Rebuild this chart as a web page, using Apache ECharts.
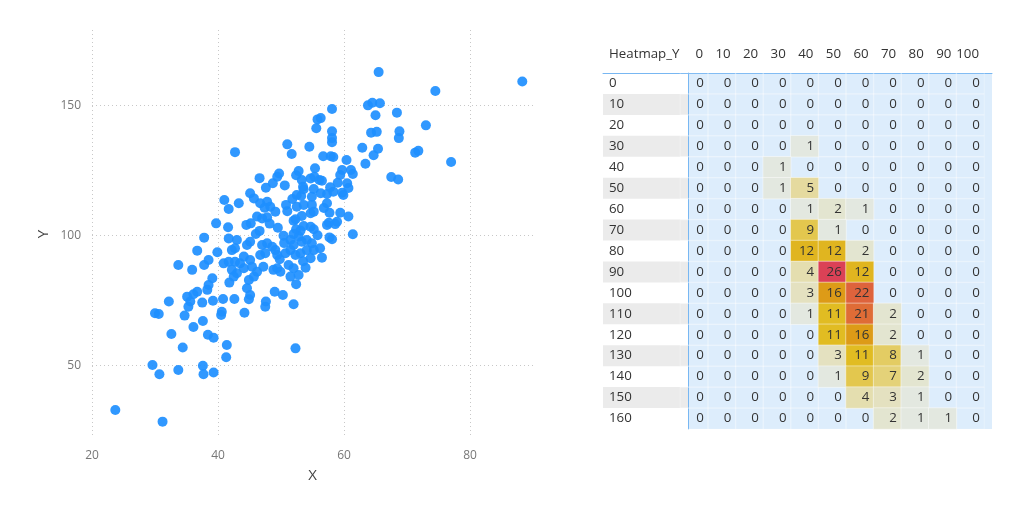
<!DOCTYPE html>
<html>
<head>
<meta charset="utf-8">
<script src="https://cdn.jsdelivr.net/npm/echarts@6.0.0/dist/echarts.min.js"></script>
<style>
html,body{margin:0;padding:0;background:#ffffff;}
#chart{width:1024px;height:505px;}
</style>
</head>
<body>
<div id="chart"></div>
<script>
// ---------- DATA ----------
const xTicks = [20, 40, 60, 80];
const yTicks = [50, 100, 150];

const scatterPoints = [
  [65.5,162.8],[88.3,159.2],[74.5,155.5],[58.1,148.6],[63.8,150],[64.5,151],[65.7,150.8],[68.4,147.2],
  [65.0,146.2],[55.8,144.6],[56.3,145.1],[55.6,141.2],[58.1,140],[58.1,137.4],[58.1,135.8],[64.3,139.5],
  [65.2,139.8],[68.8,140],[68.7,137.4],[73.0,142.3],[71.3,131.8],[71.8,132.5],[77.0,128.2],[42.7,132],
  [51.0,135],[51.7,131.3],[54.5,134.1],[56.7,130.4],[57.9,130.4],[58.3,130.1],[62.9,133.7],[65.4,133.3],
  [64.7,130.8],[63.4,127.5],[67.5,122.4],[68.6,121.5],[60.4,129],[59.7,125.1],[61.1,125.1],[61.4,123.6],
  [55.4,125.8],[52.8,124.7],[49.7,123.8],[49.4,122.5],[46.6,122],[48.7,120],[47.6,118.3],[50.6,119.2],
  [52.4,123.1],[53.3,121.3],[53.5,118.7],[54.7,121.9],[55.3,122.5],[56.1,121.3],[56.5,121],[59.0,120.2],
  [59.4,123.2],[60.5,120],[60.7,118.2],[56.3,116.2],[57.3,115.9],[58.3,116.8],[59.7,116.4],[59.9,115.5],
  [52.5,115.5],[53.2,115.1],[53.6,117.7],[45.1,116.2],[45.7,114.2],[41.0,113.6],[41.7,110.1],[43.3,112.3],
  [46.7,112.3],[47.8,112.9],[48.3,111],[47.4,110.6],[50.8,111.7],[52.5,111],[53.6,111.7],[54.9,111.7],
  [57.3,112.3],[54.9,114.8],
  [49.1,109.1],[51.0,109.3],[54.7,108.5],[55.2,109.1],[57.7,108.7],[59.4,108.7],[60.7,107.2],[46.2,107.2],
  [47.0,106.5],[47.8,106.9],[52.3,106.2],[53.3,107.4],[45.2,104.6],[39.7,104.6],[41.6,103.1],[46.6,101.7],
  [49.5,102.9],[52.0,105.6],[52.4,102.3],[53.1,101.8],[53.6,103.6],[54.7,103.3],[55.2,102.3],[57.3,104],
  [57.6,104.8],[58.9,105.2],[58.6,104.3],[61.4,100.4],[57.7,99.2],[58.1,98.5],[50.4,99.8],[37.8,99.1],
  [41.7,98.8],[43.0,98.2],[45.1,97.5],[44.6,96.3],[47.0,96.3],[47.8,96.9],[48.6,95.6],[51.5,98.2],
  [52.0,96.3],[52.8,99.5],[53.3,97.5],[54.1,98.2],[54.9,96.9],[56.2,95],[55.2,94.3],[36.7,94.1],
  [39.9,93.5],[42.2,94.3],[42.7,95],[44.1,91.8],[45.1,90.5],[46.7,92.4],[47.5,93.1],[49.1,94.3],
  [49.4,92.4],[50.7,93.1],[51.5,94.3],[52.3,92.4],[53.1,93.1],[54.1,94.3],[54.7,91.2],[56.5,91.4],
  [38.5,90.5],[37.8,88.6],[40.9,89.2],[41.7,89.8],[42.7,89.8],[43.5,89.2],[33.7,88.6],[35.9,86.7],
  [42.2,86.7],[43.0,85.4],[44.1,87.3],[45.4,87.9],[46.2,86],[47.2,87.9],[48.8,86.7],[49.4,87.3],
  [49.9,86],[51.2,88.6],[52.0,87.3],[51.5,84.1],[52.8,84.7],[53.9,87.5],[39.1,83.5],[41.8,81.8],
  [42.5,84.1],[44.9,82.8],[45.7,84.1],[52.4,81.2],[38.5,80.9],[38.3,79],[36.7,78.3],[36.1,77.3],
  [44.6,79.6],[45.1,77],[44.9,75.4],[49.0,78.3],[50.3,77],[32.2,74.5],[35.1,76.4],[35.6,74.5],
  [35.3,72.5],[37.5,74.1],[39.2,74.8],[40.8,75.5],[42.6,75.5],[47.6,74.5],[47.5,72.5],[52.0,73.5],
  [30.0,70],[30.6,69.7],[34.7,69.1],[40.6,70.6],[40.5,69.3],[44.2,70.2],[37.6,67],[36.1,64.7],
  [32.6,62],[38.4,61.7],[39.3,60.6],[41.4,57.8],[34.4,56.8],[52.3,56.5],[41.3,53.1],[29.6,50.1],
  [30.7,46.5],[33.7,48.2],[37.6,49.8],[37.7,46.5],[39.3,47.2],[23.7,32.8],[31.2,28.3],
  [52.0,100.5],[50.5,97],[55.8,100],[49.8,90.8],[53.5,90],[46.0,100.5],[56.8,110.5],[51.8,114],
  [44.5,104],[48.2,104.5],[57.8,118.5],[55.2,117.8]
];

const heatRows = ['0','10','20','30','40','50','60','70','80','90','100','110','120','130','140','150','160'];
const heatCols = ['0','10','20','30','40','50','60','70','80','90','100'];
const heatTitle = 'Heatmap_Y';
const heatValues = [
  [0,0,0,0,0,0,0,0,0,0,0],
  [0,0,0,0,0,0,0,0,0,0,0],
  [0,0,0,0,0,0,0,0,0,0,0],
  [0,0,0,0,1,0,0,0,0,0,0],
  [0,0,0,1,0,0,0,0,0,0,0],
  [0,0,0,1,5,0,0,0,0,0,0],
  [0,0,0,0,1,2,1,0,0,0,0],
  [0,0,0,0,9,1,0,0,0,0,0],
  [0,0,0,0,12,12,2,0,0,0,0],
  [0,0,0,0,4,26,12,0,0,0,0],
  [0,0,0,0,3,16,22,0,0,0,0],
  [0,0,0,0,1,11,21,2,0,0,0],
  [0,0,0,0,0,11,16,2,0,0,0],
  [0,0,0,0,0,3,11,8,1,0,0],
  [0,0,0,0,0,1,9,7,2,0,0],
  [0,0,0,0,0,0,4,3,1,0,0],
  [0,0,0,0,0,0,0,2,1,1,0]
];

// ---------- BUILD ----------
const FONT = '"Segoe UI","Open Sans",sans-serif';
const BLUE_LINE = '#78b7f2';
const TXT = '#333333';

const heatAll = [];
heatValues.forEach((row, r) => row.forEach((v, c) => heatAll.push([c, r, v])));
const heatZero = heatAll.filter(d => d[2] === 0);
const heatNonZero = heatAll.filter(d => d[2] !== 0);
const heatMax = Math.max(...heatAll.map(d => d[2]));

const cellLabel = {show: true, position: 'insideRight', distance: 5, color: TXT, fontSize: 13.3, fontFamily: FONT};

const chart = echarts.init(document.getElementById('chart'), null, {renderer: 'canvas'});
const option = {
  animation: false,
  backgroundColor: '#ffffff',
  textStyle: {fontFamily: FONT},
  grid: [
    {left: 92, top: 30, width: 441, height: 408, outerBoundsMode: 'none'},
    {left: 603, top: 73, width: 85, height: 356, outerBoundsMode: 'none'},
    {left: 688, top: 73, width: 304, height: 356, show: true, backgroundColor: '#ddedfc', borderWidth: 0, outerBoundsMode: 'none'},
    {left: 680.4, top: 73, width: 303.6, height: 356, outerBoundsMode: 'none'}
  ],
  xAxis: [
    {
      gridIndex: 0, type: 'value', min: 20, max: 90,
      name: 'X', nameLocation: 'middle', nameGap: 30,
      nameTextStyle: {fontSize: 15, color: '#444', fontFamily: FONT},
      axisLine: {show: false},
      axisTick: {show: false, customValues: xTicks},
      axisLabel: {customValues: xTicks, color: '#777', fontSize: 12, margin: 12, fontFamily: FONT},
      splitLine: {show: true, lineStyle: {type: [1, 3], color: '#c8c8c8', width: 1}}
    },
    {
      gridIndex: 1, type: 'category', data: [heatTitle], position: 'top',
      axisLine: {show: true, lineStyle: {color: BLUE_LINE, width: 1}},
      axisTick: {show: false},
      axisLabel: {
        margin: 12, color: TXT, fontSize: 13.3, fontFamily: FONT,
        formatter: '{a|{value}}',
        rich: {a: {width: 73, align: 'left', color: TXT, fontSize: 13.3, fontFamily: FONT}}
      },
      splitLine: {show: false}
    },
    {
      gridIndex: 2, type: 'category', data: heatCols, position: 'top',
      axisLine: {show: true, lineStyle: {color: BLUE_LINE, width: 1}},
      axisTick: {show: false}, axisLabel: {show: false}, splitLine: {show: false}
    },
    {
      gridIndex: 3, type: 'category', data: heatCols, position: 'top',
      axisLine: {show: false}, axisTick: {show: false}, splitLine: {show: false},
      axisLabel: {
        interval: 0, margin: 12, color: TXT, fontSize: 13.3, fontFamily: FONT,
        formatter: '{a|{value}}',
        rich: {a: {width: 17.6, align: 'right', color: TXT, fontSize: 13.3, fontFamily: FONT}}
      }
    }
  ],
  yAxis: [
    {
      gridIndex: 0, type: 'value', min: 22, max: 179,
      name: 'Y', nameLocation: 'middle', nameGap: 41,
      nameTextStyle: {fontSize: 15, color: '#444', fontFamily: FONT},
      axisLine: {show: false},
      axisTick: {show: false, customValues: yTicks},
      axisLabel: {customValues: yTicks, color: '#777', fontSize: 12, margin: 11, fontFamily: FONT},
      splitLine: {show: true, lineStyle: {type: [1, 3], color: '#c8c8c8', width: 1}}
    },
    {
      gridIndex: 1, type: 'category', data: heatRows, inverse: true,
      axisLine: {show: false}, axisTick: {show: false},
      axisLabel: {inside: true, margin: 6, color: TXT, fontSize: 13.3, fontFamily: FONT, interval: 0},
      splitLine: {show: false},
      splitArea: {show: true, interval: 0, areaStyle: {color: ['rgba(255,255,255,0)', '#ebebeb']}}
    },
    {
      gridIndex: 2, type: 'category', data: heatRows, inverse: true,
      axisLine: {show: true, lineStyle: {color: BLUE_LINE, width: 1}},
      axisTick: {show: false}, axisLabel: {show: false}, splitLine: {show: false}
    },
    {
      gridIndex: 3, type: 'category', data: heatRows, inverse: true,
      axisLine: {show: false}, axisTick: {show: false}, axisLabel: {show: false}, splitLine: {show: false}
    }
  ],
  visualMap: {
    type: 'continuous', show: false, seriesIndex: 2, dimension: 2,
    min: 1, max: heatMax,
    inRange: {color: ['#e3e8e0', '#e5d78f', '#e1bc22', '#dd9b17', '#df6c36', '#db4156']}
  },
  series: [
    {
      type: 'scatter', xAxisIndex: 0, yAxisIndex: 0,
      data: scatterPoints, symbol: 'circle', symbolSize: 10,
      itemStyle: {color: '#1e8fff', opacity: 0.92},
      emphasis: {disabled: true}
    },
    {
      type: 'heatmap', xAxisIndex: 3, yAxisIndex: 3,
      data: heatZero,
      itemStyle: {color: 'rgba(0,0,0,0)', borderColor: 'rgba(255,255,255,0.3)', borderWidth: 1},
      label: cellLabel,
      emphasis: {disabled: true}
    },
    {
      type: 'heatmap', xAxisIndex: 3, yAxisIndex: 3,
      data: heatNonZero,
      itemStyle: {borderColor: 'rgba(255,255,255,0.45)', borderWidth: 1},
      label: cellLabel,
      emphasis: {disabled: true}
    }
  ]
};
chart.setOption(option);
</script>
</body>
</html>
